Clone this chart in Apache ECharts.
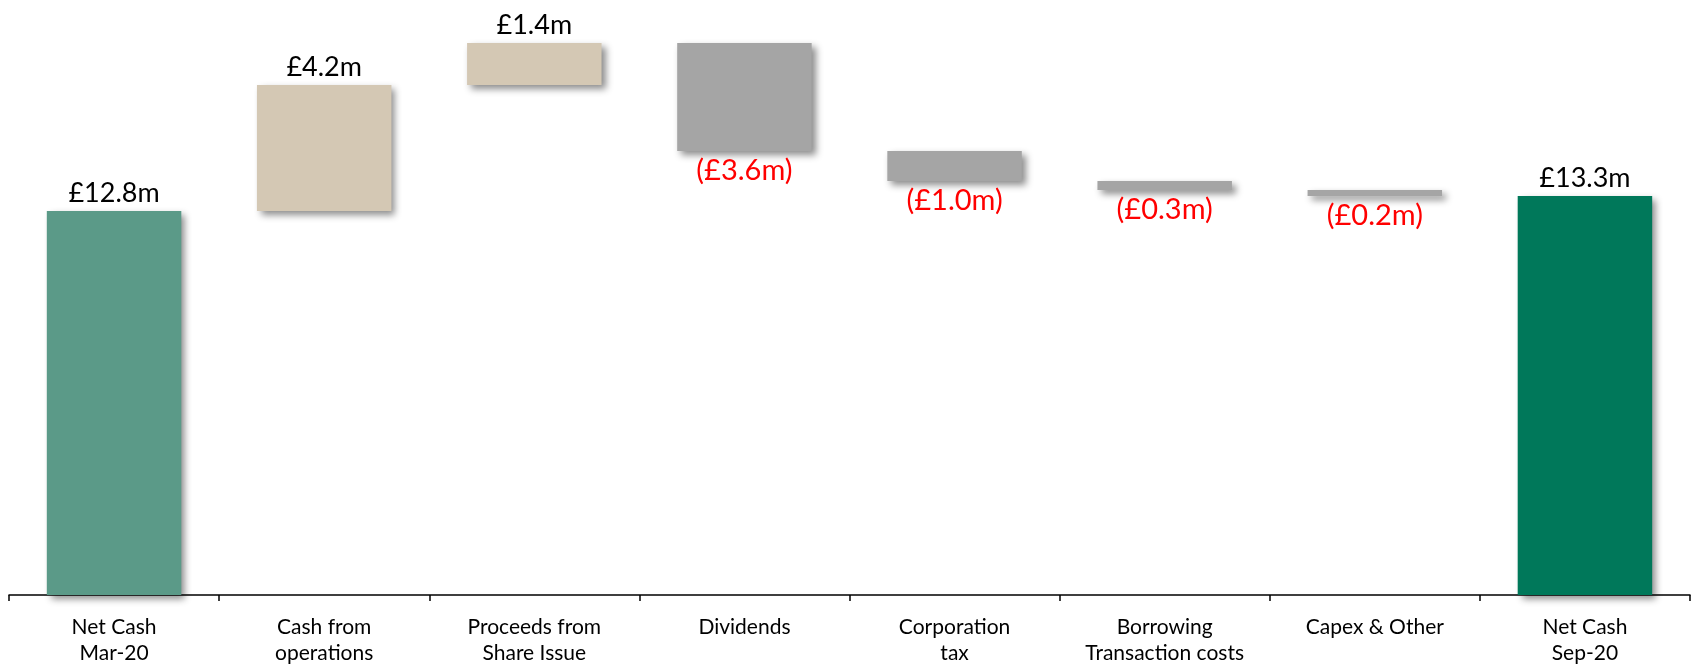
<!DOCTYPE html>
<html>
<head>
<meta charset="utf-8">
<script src="https://cdn.jsdelivr.net/npm/echarts@6/dist/echarts.min.js"></script>
<style>
  html, body { margin: 0; padding: 0; background: #ffffff; }
  #chart { width: 1696px; height: 670px; }
</style>
</head>
<body>
<div id="chart"></div>
<script>
// Net cash bridge, March 2020 to September 2020 (£m)
const categories = [
  'Net Cash\nMar-20',
  'Cash from\noperations',
  'Proceeds from\nShare Issue',
  'Dividends',
  'Corporation\ntax',
  'Borrowing\nTransaction costs',
  'Capex & Other',
  'Net Cash\nSep-20'
];
const openingCash = 12.8;
const movements = [4.2, 1.4, -3.6, -1.0, -0.3, -0.2];
const closingCash = 13.3;

const COLORS = {
  opening: '#5B9A88',
  increase: '#D4C8B4',
  decrease: '#A5A5A5',
  closing: '#00785A'
};

// Build the invisible base and visible step of each waterfall bar
const baseData = [];
const stepData = [];
let running = openingCash;

function fmt(v) {
  const s = '£' + Math.abs(v).toFixed(1) + 'm';
  return v < 0 ? '(' + s + ')' : s;
}

const shadow = {
  shadowColor: 'rgba(0,0,0,0.45)',
  shadowBlur: 7,
  shadowOffsetX: 4,
  shadowOffsetY: 4
};

const upLabel = { position: 'top', color: '#000000', distance: 4, fontSize: 27 };
const downLabel = { position: 'bottom', color: '#FF0000', distance: 5, fontSize: 29 };

baseData.push(0);
stepData.push({
  value: openingCash,
  itemStyle: Object.assign({ color: COLORS.opening }, shadow),
  label: Object.assign({ formatter: fmt(openingCash) }, upLabel)
});

movements.forEach(function (m) {
  if (m >= 0) {
    baseData.push(running);
    running = +(running + m).toFixed(2);
    stepData.push({
      value: m,
      itemStyle: Object.assign({ color: COLORS.increase }, shadow),
      label: Object.assign({ formatter: fmt(m) }, upLabel)
    });
  } else {
    running = +(running + m).toFixed(2);
    baseData.push(running);
    stepData.push({
      value: -m,
      itemStyle: Object.assign({ color: COLORS.decrease }, shadow),
      label: Object.assign({ formatter: fmt(m) }, downLabel)
    });
  }
});

baseData.push(0);
stepData.push({
  value: closingCash,
  itemStyle: Object.assign({ color: COLORS.closing }, shadow),
  label: Object.assign({ formatter: fmt(closingCash) }, upLabel)
});

const chart = echarts.init(document.getElementById('chart'), null, { renderer: 'canvas' });
chart.setOption({
  animation: false,
  backgroundColor: '#ffffff',
  textStyle: { fontFamily: 'Lato, "Open Sans", sans-serif' },
  grid: { left: 9, right: 6, top: 25, bottom: 75, containLabel: false },
  xAxis: {
    type: 'category',
    data: categories,
    boundaryGap: true,
    axisLine: { show: true, lineStyle: { color: '#000000', width: 1.5 } },
    axisTick: { show: true, length: 6, lineStyle: { color: '#000000', width: 1.5 } },
    axisLabel: {
      interval: 0,
      margin: 19,
      color: '#000000',
      fontSize: 21,
      lineHeight: 26,
      fontFamily: 'Lato, "Open Sans", sans-serif'
    },
    splitLine: { show: false }
  },
  yAxis: {
    type: 'value',
    min: 0,
    max: 19,
    show: false,
    splitLine: { show: false }
  },
  series: [
    {
      name: 'base',
      type: 'bar',
      stack: 'bridge',
      barWidth: '64%',
      silent: true,
      itemStyle: { color: 'rgba(0,0,0,0)' },
      emphasis: { disabled: true },
      data: baseData
    },
    {
      name: 'step',
      type: 'bar',
      stack: 'bridge',
      barWidth: '64%',
      label: {
        show: true,
        fontFamily: 'Lato, "Open Sans", sans-serif'
      },
      data: stepData
    }
  ]
});
</script>
</body>
</html>
